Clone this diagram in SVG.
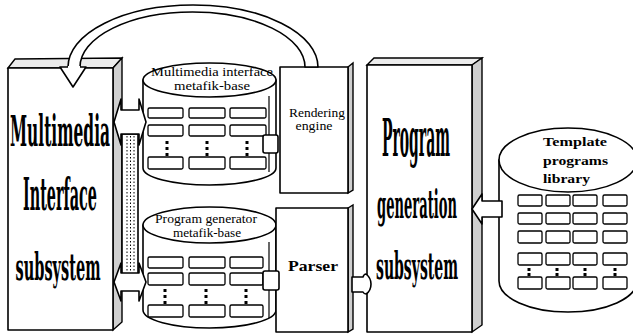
<svg xmlns="http://www.w3.org/2000/svg" width="633" height="335" viewBox="0 0 633 335">
<style>
.ln{stroke:#000;stroke-width:1.6;fill:#fff;stroke-linejoin:round}
.side{stroke:#000;stroke-width:1.4;fill:#cfcfcf}
.top{stroke:#000;stroke-width:1.4;fill:#ececec}
.cell{stroke:#000;stroke-width:1.3;fill:#fff}
.big{font-family:"DejaVu Serif","Liberation Serif",serif;font-weight:bold;fill:#000}
.sm{font-family:"Liberation Serif","DejaVu Serif",serif;fill:#000;font-size:12px}
.smb{font-family:"Liberation Serif","DejaVu Serif",serif;font-weight:bold;fill:#000}
.dot{fill:#000}
</style>
<defs>
<g id="dots3"><rect class="dot" x="-1.5" y="0" width="3" height="3"/><rect class="dot" x="-1.5" y="6" width="3" height="3"/><rect class="dot" x="-1.5" y="12" width="3" height="3"/></g>
<g id="dots2"><rect class="dot" x="-1.5" y="0" width="3" height="3"/><rect class="dot" x="-1.5" y="5" width="3" height="3"/></g>
</defs>
<rect width="633" height="335" fill="#fff"/>

<g id="node-multimedia-interface-subsystem">
<polygon class="top" points="8,68 15,59 122,58 113,68"/>
<polygon class="side" points="113,68 122,58 122,322 113,330"/>
<rect class="ln" x="8" y="68" width="105" height="262"/>
<text class="big" x="60" y="146" font-size="42" text-anchor="middle" textLength="100" lengthAdjust="spacingAndGlyphs">Multimedia</text>
<text class="big" x="60" y="210" font-size="44" text-anchor="middle" textLength="74" lengthAdjust="spacingAndGlyphs">Interface</text>
<text class="big" x="58" y="280" font-size="38" text-anchor="middle" textLength="85" lengthAdjust="spacingAndGlyphs">subsystem</text>
</g>

<g id="node-mm-metafile-base">
<path class="ln" d="M143,80 V168 A66.5,17 0 0 0 276,168 V80 Z"/>
<ellipse class="ln" cx="209.5" cy="80" rx="66.5" ry="17"/>
<line x1="269" y1="96" x2="269" y2="172" stroke="#000" stroke-width="1.2"/>
<text class="sm" x="212" y="76" text-anchor="middle" textLength="122" lengthAdjust="spacingAndGlyphs">Multimedia interface</text>
<text class="sm" x="212" y="90" text-anchor="middle" textLength="76" lengthAdjust="spacingAndGlyphs">metafik-base</text>
<rect class="cell" x="148" y="108" width="35" height="10" rx="1.5"/>
<rect class="cell" x="189" y="108" width="36" height="10" rx="1.5"/>
<rect class="cell" x="230" y="108" width="36" height="10" rx="1.5"/>
<rect class="cell" x="148" y="125" width="35" height="11" rx="1.5"/>
<rect class="cell" x="189" y="125" width="36" height="11" rx="1.5"/>
<rect class="cell" x="230" y="125" width="36" height="11" rx="1.5"/>
<use href="#dots3" x="167" y="141"/>
<use href="#dots3" x="207" y="141"/>
<use href="#dots3" x="247" y="141"/>
<rect class="cell" x="148" y="157" width="35" height="12" rx="1.5"/>
<rect class="cell" x="189" y="157" width="36" height="12" rx="1.5"/>
<rect class="cell" x="230" y="157" width="36" height="12" rx="1.5"/>
</g>

<g id="node-rendering-engine">
<polygon class="side" points="348,67 353,63 353,190 348,193"/>
<rect class="ln" x="280" y="67" width="68" height="126"/>
<text class="sm" x="317" y="117" text-anchor="middle" textLength="56" lengthAdjust="spacingAndGlyphs">Rendering</text>
<text class="sm" x="314" y="130" text-anchor="middle" textLength="37" lengthAdjust="spacingAndGlyphs">engine</text>
</g>

<g id="node-pg-metafile-base">
<path class="ln" d="M143,225 V310 A66.5,18 0 0 0 276,310 V225 Z"/>
<ellipse class="ln" cx="209.5" cy="225" rx="66.5" ry="18"/>
<line x1="269" y1="242" x2="269" y2="318" stroke="#000" stroke-width="1.2"/>
<text class="sm" x="206" y="223" text-anchor="middle" textLength="102" lengthAdjust="spacingAndGlyphs">Program generator</text>
<text class="sm" x="207" y="237" text-anchor="middle" textLength="68" lengthAdjust="spacingAndGlyphs">metafik-base</text>
<rect class="cell" x="148" y="257" width="35" height="11" rx="1.5"/>
<rect class="cell" x="189" y="257" width="36" height="11" rx="1.5"/>
<rect class="cell" x="230" y="257" width="33" height="11" rx="1.5"/>
<rect class="cell" x="148" y="273" width="35" height="12" rx="1.5"/>
<rect class="cell" x="189" y="273" width="36" height="12" rx="1.5"/>
<rect class="cell" x="230" y="273" width="33" height="12" rx="1.5"/>
<use href="#dots3" x="165" y="289"/>
<use href="#dots3" x="206" y="289"/>
<use href="#dots3" x="246" y="289"/>
<rect class="cell" x="148" y="305" width="35" height="12" rx="1.5"/>
<rect class="cell" x="189" y="305" width="36" height="12" rx="1.5"/>
<rect class="cell" x="230" y="305" width="33" height="12" rx="1.5"/>
</g>

<g id="node-parser">
<polygon class="side" points="348,208 353,205 353,329 348,332"/>
<rect class="ln" x="276" y="208" width="72" height="124"/>
<text class="smb" x="313" y="271" font-size="14" text-anchor="middle" textLength="50" lengthAdjust="spacingAndGlyphs">Parser</text>
</g>

<g id="node-program-generation-subsystem">
<polygon class="top" points="367,65 374,58 482,58 472,65"/>
<polygon class="side" points="472,65 482,58 482,325 472,332"/>
<rect class="ln" x="367" y="65" width="105" height="267"/>
<text class="big" x="416" y="156" font-size="52" text-anchor="middle" textLength="68" lengthAdjust="spacingAndGlyphs">Program</text>
<text class="big" x="417" y="218" font-size="40" text-anchor="middle" textLength="80" lengthAdjust="spacingAndGlyphs">generation</text>
<text class="big" x="417" y="279" font-size="38" text-anchor="middle" textLength="82" lengthAdjust="spacingAndGlyphs">subsystem</text>
</g>

<g id="node-template-programs-library">
<path class="ln" d="M499,160 V281 A69,31 0 0 0 637,281 V160 Z"/>
<ellipse class="ln" cx="568" cy="160" rx="69" ry="32"/>
<text class="smb" x="543" y="146" font-size="13.5" textLength="64" lengthAdjust="spacingAndGlyphs">Template</text>
<text class="smb" x="543" y="164.5" font-size="13.5" textLength="65" lengthAdjust="spacingAndGlyphs">programs</text>
<text class="smb" x="543" y="183" font-size="13.5" textLength="47" lengthAdjust="spacingAndGlyphs">library</text>
<g>
<rect class="cell" x="518" y="195" width="24" height="11" rx="1.5"/><rect class="cell" x="546" y="195" width="24" height="11" rx="1.5"/><rect class="cell" x="573" y="195" width="24" height="11" rx="1.5"/><rect class="cell" x="603" y="195" width="24" height="11" rx="1.5"/>
<rect class="cell" x="518" y="213" width="24" height="11" rx="1.5"/><rect class="cell" x="546" y="213" width="24" height="11" rx="1.5"/><rect class="cell" x="573" y="213" width="24" height="11" rx="1.5"/><rect class="cell" x="603" y="213" width="24" height="11" rx="1.5"/>
<rect class="cell" x="518" y="231" width="24" height="12" rx="1.5"/><rect class="cell" x="546" y="231" width="24" height="12" rx="1.5"/><rect class="cell" x="573" y="231" width="24" height="12" rx="1.5"/><rect class="cell" x="603" y="231" width="24" height="12" rx="1.5"/>
<rect class="cell" x="518" y="253" width="24" height="12" rx="1.5"/><rect class="cell" x="546" y="253" width="24" height="12" rx="1.5"/><rect class="cell" x="573" y="253" width="24" height="12" rx="1.5"/><rect class="cell" x="603" y="253" width="24" height="12" rx="1.5"/>
<use href="#dots2" x="529" y="268"/><use href="#dots2" x="557" y="268"/><use href="#dots2" x="585" y="268"/><use href="#dots2" x="615" y="268"/>
<rect class="cell" x="518" y="277" width="24" height="12" rx="1.5"/><rect class="cell" x="546" y="277" width="24" height="12" rx="1.5"/><rect class="cell" x="573" y="277" width="24" height="12" rx="1.5"/><rect class="cell" x="603" y="277" width="24" height="12" rx="1.5"/>
</g>
</g>

<g id="connectors">
<!-- curved arrow from rendering engine back to multimedia interface subsystem -->
<path class="ln" d="M68,67 A125,62 0 0 1 318,67 L305,67 A112.5,55 0 0 0 80,67 Z"/>
<polygon class="ln" points="60,67 86,67 73,87"/>
<line x1="68" y1="67" x2="80" y2="67" stroke="#fff" stroke-width="2"/>
<!-- vertical link bar -->
<rect class="ln" x="122" y="134" width="16" height="140"/>
<line x1="127" y1="136" x2="127" y2="272" stroke="#000" stroke-width="1" stroke-dasharray="1.5,2"/>
<line x1="130.5" y1="136" x2="130.5" y2="272" stroke="#000" stroke-width="1" stroke-dasharray="1.5,2"/>
<line x1="134" y1="136" x2="134" y2="272" stroke="#000" stroke-width="1" stroke-dasharray="1.5,2"/>
<!-- double arrows -->
<polygon class="ln" points="114,122 121,99 121,110 139,110 139,99 146,122 139,145 139,134 121,134 121,145"/>
<polygon class="ln" points="114,282 121,263 121,273 139,273 139,263 146,282 139,301 139,291 121,291 121,301"/>
<!-- small connectors -->
<rect class="ln" x="263" y="135" width="15" height="18" rx="2"/>
<rect class="ln" x="263" y="271" width="16" height="19" rx="2"/>
<!-- parser to program generation -->
<path class="ln" d="M352,277 H363 Q364,274 366,274 Q371,278 371,284 Q371,291 366,294 Q364,294 363,292 H352 Z"/>
<!-- template to program generation -->
<polygon class="ln" points="472,209 482,194 482,201 502,201 502,217 482,217 482,224"/>
</g>
</svg>
